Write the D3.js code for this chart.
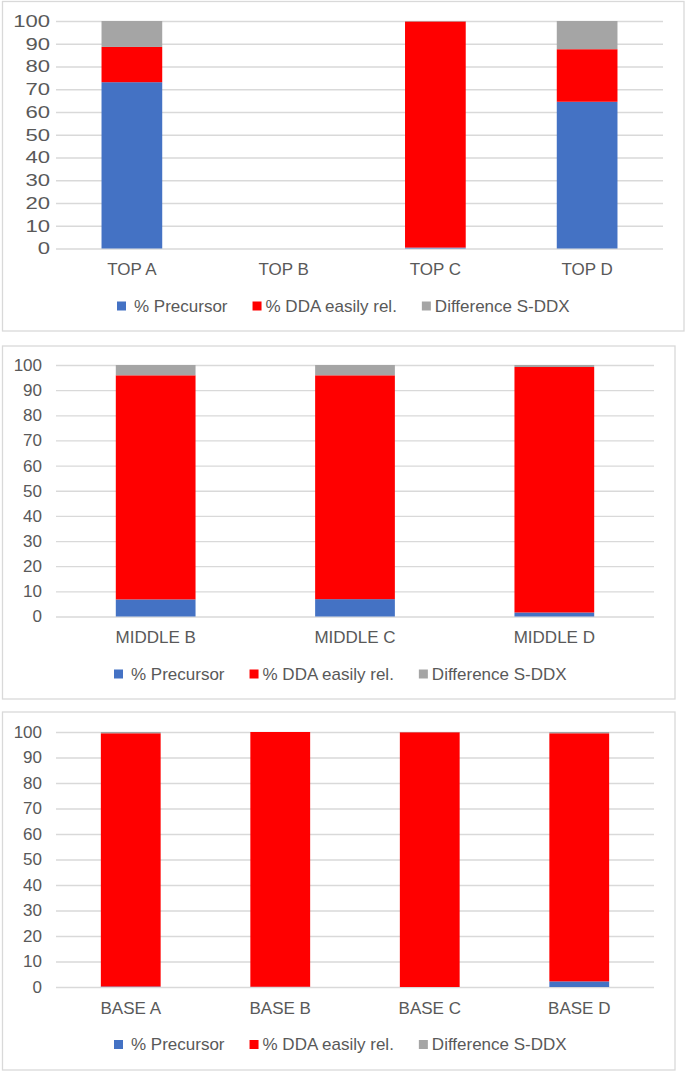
<!DOCTYPE html>
<html>
<head>
<meta charset="utf-8">
<script src="https://cdn.jsdelivr.net/npm/d3@7"></script>
<style>
  body { margin: 0; background: #fff; }
  svg { display: block; font-family: "Liberation Sans", Arial, sans-serif; }
</style>
</head>
<body>
<div id="chart"></div>
<script>
// series shared by the three panels
const seriesNames = ['% Precursor', '% DDA easily rel.', 'Difference S-DDX']
const seriesColors = ['#4472C4', '#FF0000', '#A5A5A5']
const yTicks = [0, 10, 20, 30, 40, 50, 60, 70, 80, 90, 100]

// TOP panel
const topCategories = ['TOP A', 'TOP B', 'TOP C', 'TOP D']
const topPrecursor = [73.1, 0, 0.4, 64.5]
const topDDA = [15.5, 0, 99.4, 23.1]
const topDiff = [11.4, 0, 0.2, 12.4]

// MIDDLE panel
const middleCategories = ['MIDDLE B', 'MIDDLE C', 'MIDDLE D']
const middlePrecursor = [6.8, 6.9, 1.6]
const middleDDA = [89.1, 89.0, 97.6]
const middleDiff = [4.1, 4.1, 0.8]

// BASE panel
const baseCategories = ['BASE A', 'BASE B', 'BASE C', 'BASE D']
const basePrecursor = [0.2, 0.1, 0, 2.2]
const baseDDA = [99.3, 99.9, 99.9, 97.3]
const baseDiff = [0.5, 0, 0.1, 0.5]

const width = 685
const height = 1072
const textColor = '#595959'
const gridColor = '#d9d9d9'

const svg = d3.select('#chart').append('svg').attr('width', width).attr('height', height)

const panels = [
  { cats: topCategories, vals: [topPrecursor, topDDA, topDiff],
    box: [2.5, 1.5, 684, 331], x0: 56, x1: 663, yTop: 21, yZero: 248.5,
    tickPad: 6, tickStretch: 1.3, legendX: 117 },
  { cats: middleCategories, vals: [middlePrecursor, middleDDA, middleDiff],
    box: [2.5, 346, 675, 699], x0: 56, x1: 654, yTop: 365, yZero: 616.5,
    tickPad: 14, tickStretch: 1, legendX: 114 },
  { cats: baseCategories, vals: [basePrecursor, baseDDA, baseDiff],
    box: [2.5, 712, 675, 1070], x0: 56, x1: 654, yTop: 732, yZero: 987,
    tickPad: 14, tickStretch: 1, legendX: 114 }
]

panels.forEach(drawPanel)

function drawPanel(p) {
  const g = svg.append('g')

  g.append('rect')
    .attr('x', p.box[0]).attr('y', p.box[1])
    .attr('width', p.box[2] - p.box[0]).attr('height', p.box[3] - p.box[1])
    .attr('fill', '#fff').attr('stroke', gridColor).attr('stroke-width', 1.3)

  const rows = p.cats.map((c, i) => {
    const r = { cat: c }
    seriesNames.forEach((s, j) => (r[s] = p.vals[j][i]))
    return r
  })

  const x = d3.scaleBand().domain(p.cats).range([p.x0, p.x1]).paddingInner(0.6).paddingOuter(0.3)
  const y = d3.scaleLinear().domain([0, 100]).range([p.yZero, p.yTop])

  // gridlines + tick labels
  const axis = g.append('g')
    .attr('transform', `translate(${p.x0},0)`)
    .call(d3.axisLeft(y).tickValues(yTicks).tickSize(-(p.x1 - p.x0)).tickPadding(p.tickPad))
  axis.select('.domain').remove()
  axis.selectAll('line').attr('stroke', gridColor).attr('stroke-width', 1.3)
  axis.selectAll('text')
    .attr('fill', textColor)
    .attr('font-size', 17)
    .attr('font-family', '"Liberation Sans", Arial, sans-serif')
    .attr('x', -p.tickPad / p.tickStretch)
    .attr('transform', `scale(${p.tickStretch},1)`)

  const stacked = d3.stack().keys(seriesNames)(rows)

  g.append('g')
    .selectAll('g')
    .data(stacked)
    .join('g')
    .attr('fill', (d, i) => seriesColors[i])
    .selectAll('rect')
    .data((d) => d)
    .join('rect')
    .attr('x', (d) => x(d.data.cat))
    .attr('width', x.bandwidth())
    .attr('y', (d) => y(d[1]))
    .attr('height', (d) => Math.max(0, y(d[0]) - y(d[1])))

  // category labels
  g.append('g')
    .selectAll('text')
    .data(p.cats)
    .join('text')
    .attr('x', (d) => x(d) + x.bandwidth() / 2)
    .attr('y', p.yZero + 26.5)
    .attr('text-anchor', 'middle')
    .attr('font-size', 17)
    .attr('fill', textColor)
    .text((d) => d)

  // legend
  const legend = g.append('g')
  let lx = p.legendX
  const ly = p.yZero + 63
  seriesNames.forEach((name, i) => {
    legend.append('rect')
      .attr('x', lx).attr('y', ly - 10)
      .attr('width', 9).attr('height', 9)
      .attr('fill', seriesColors[i])
    lx += 9 + (i === 0 ? 8 : 4)
    const t = legend.append('text')
      .attr('x', lx).attr('y', ly)
      .attr('font-size', 17)
      .attr('fill', textColor)
      .text(name)
    lx += t.node().getComputedTextLength() + 25
  })
}
</script>
</body>
</html>
